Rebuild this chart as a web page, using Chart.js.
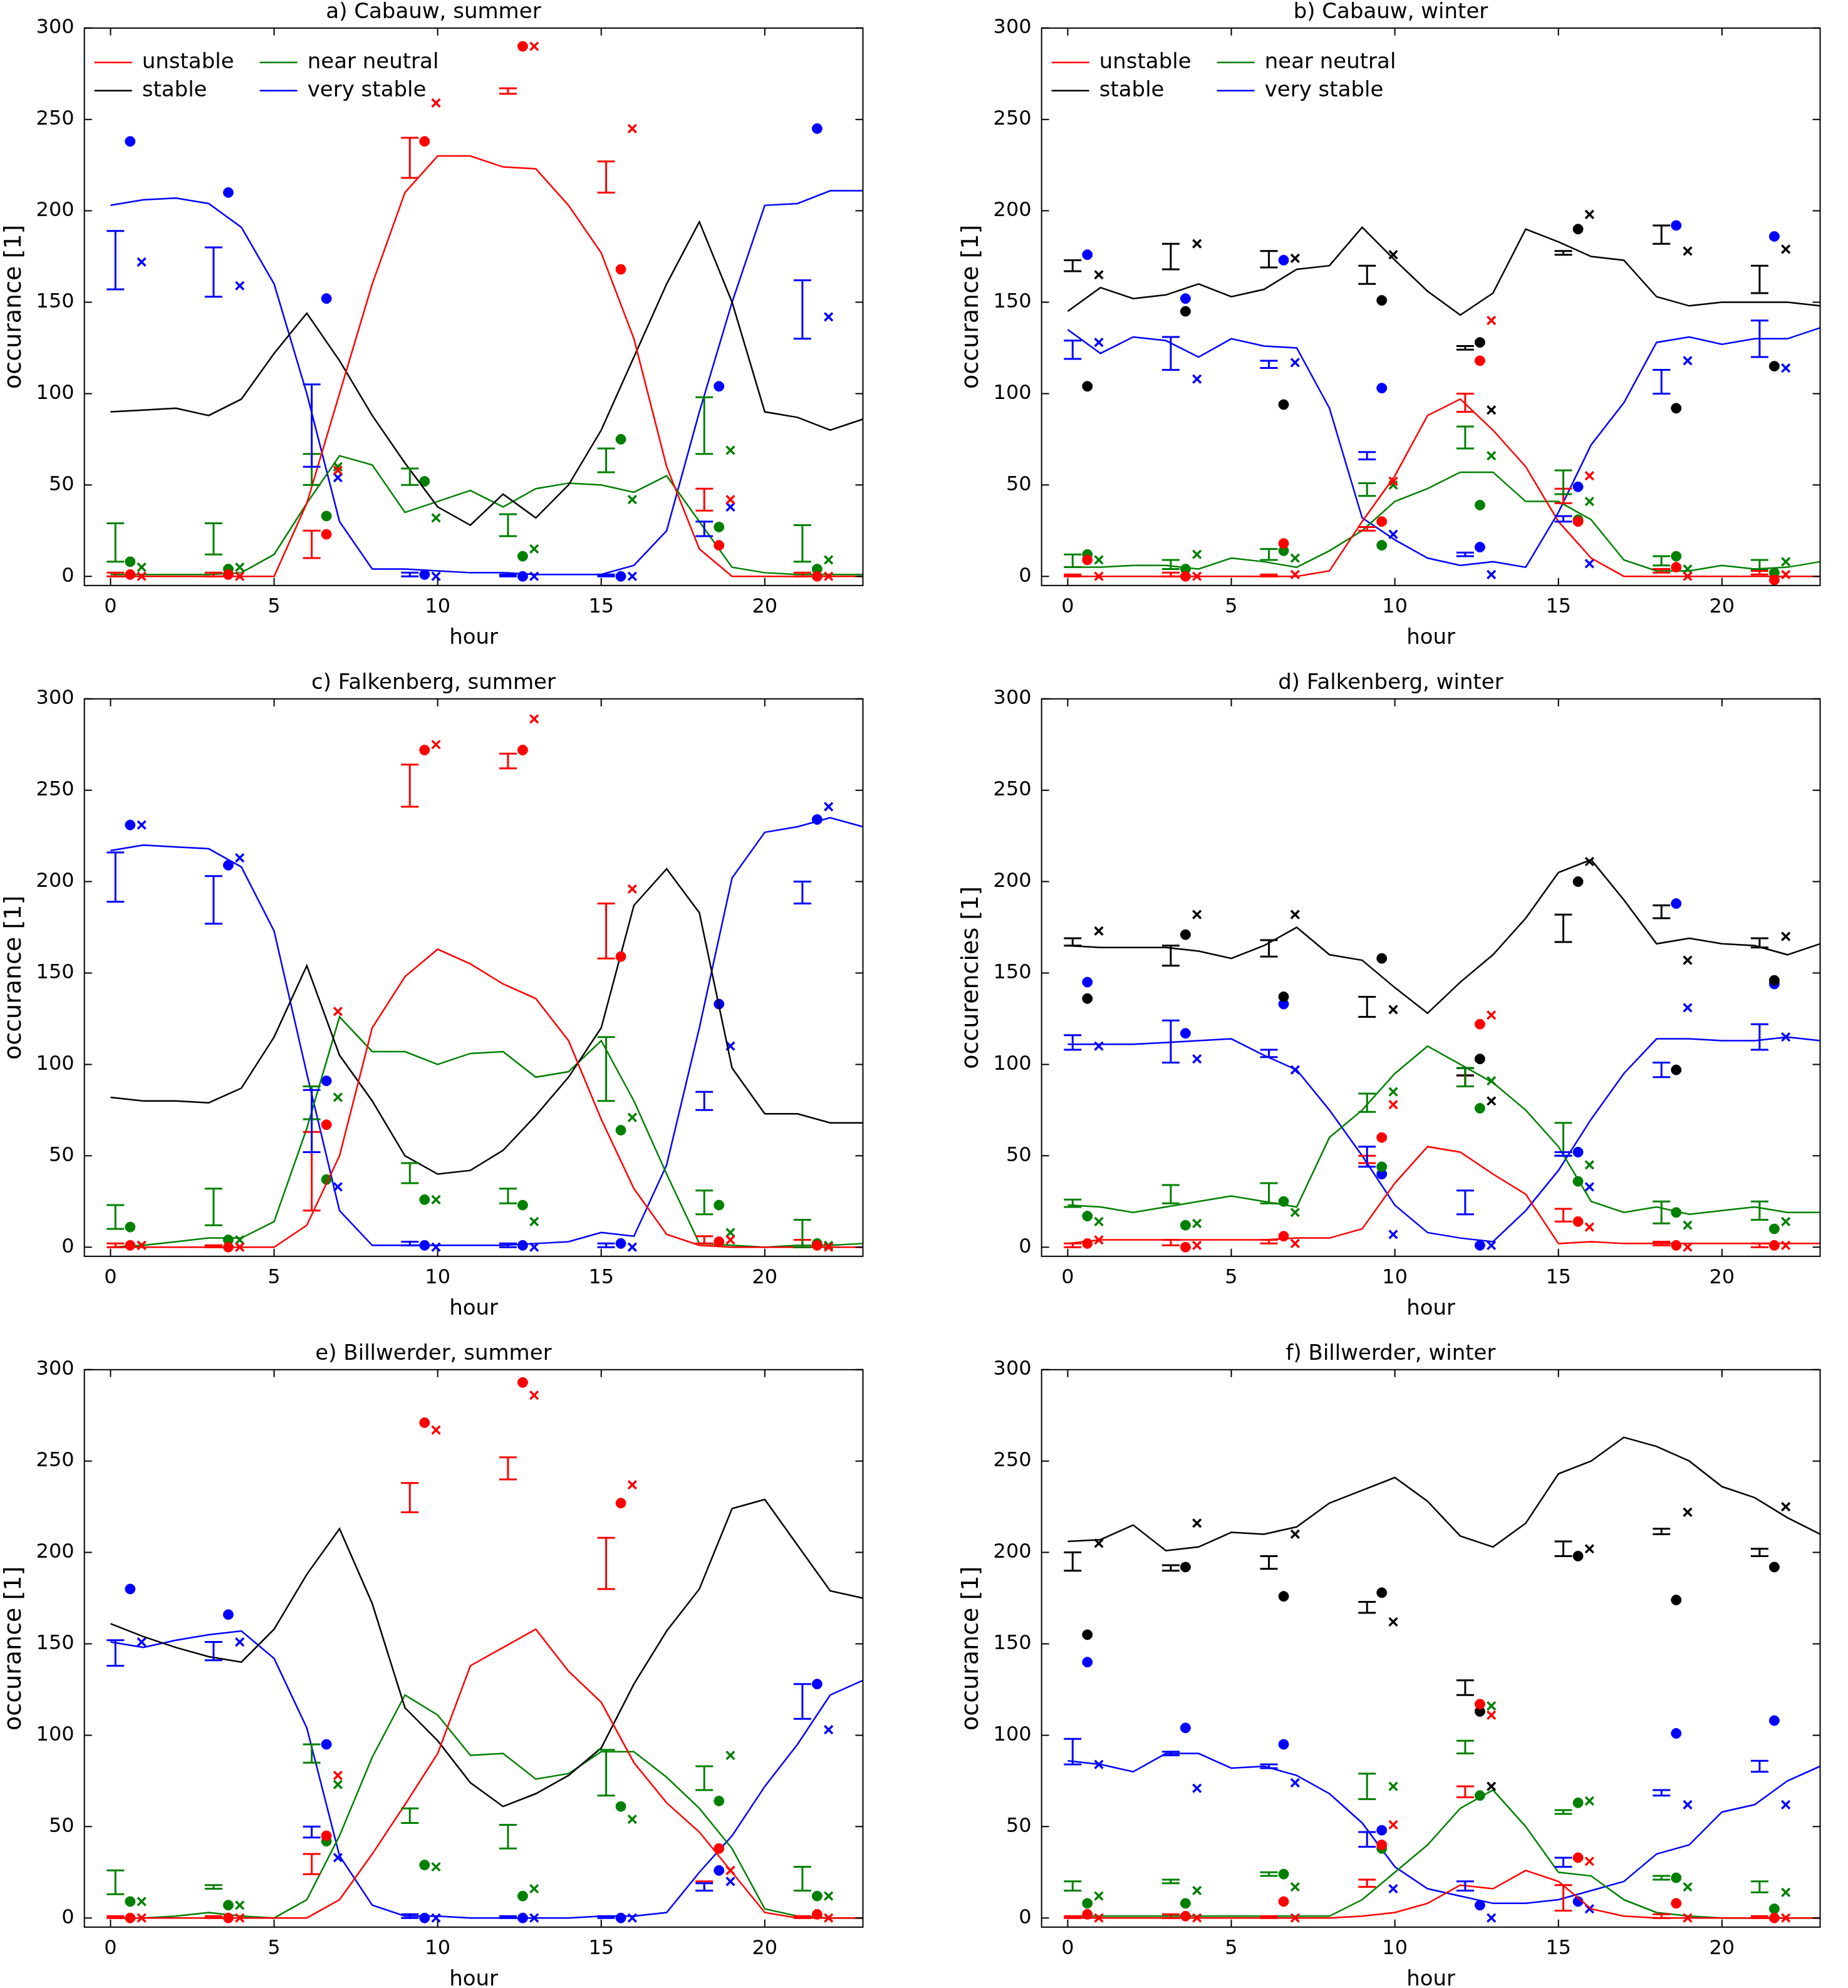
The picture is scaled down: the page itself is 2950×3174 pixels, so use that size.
<!DOCTYPE html>
<html>
<head>
<meta charset="utf-8">
<script src="https://cdn.jsdelivr.net/npm/chart.js@4.4.0/dist/chart.umd.min.js"></script>
<style>
  body { margin: 0; background: #fff; }
  .panel { position: absolute; width: 1390px; height: 1040px; }
</style>
</head>
<body>
<div class="panel" style="left:0px;top:0px"><canvas id="ca"></canvas></div>
<div class="panel" style="left:1528px;top:0px"><canvas id="cb"></canvas></div>
<div class="panel" style="left:0px;top:1071px"><canvas id="cc"></canvas></div>
<div class="panel" style="left:1528px;top:1071px"><canvas id="cd"></canvas></div>
<div class="panel" style="left:0px;top:2142px"><canvas id="ce"></canvas></div>
<div class="panel" style="left:1528px;top:2142px"><canvas id="cf"></canvas></div>
<script>
// shared x positions
const hours = [0,1,2,3,4,5,6,7,8,9,10,11,12,13,14,15,16,17,18,19,20,21,22,23];
const barHours = [0.15, 3.15, 6.15, 9.15, 12.15, 15.15, 18.15, 21.15];
const dotHours = [0.6, 3.6, 6.6, 9.6, 12.6, 15.6, 18.6, 21.6];
const crossHours = [0.95, 3.95, 6.95, 9.95, 12.95, 15.95, 18.95, 21.95];
const yTicks = [0, 50, 100, 150, 200, 250, 300];
const xTicks = [0, 5, 10, 15, 20];
const classes = ['unstable', 'stable', 'near neutral', 'very stable'];
const colors = ['#ff0000', '#000000', '#008000', '#0000ff'];

// a) Cabauw, summer
const aLines = [
  [0,0,0,0,0,0,40,100,160,210,230,230,224,223,203,177,130,60,15,0,0,0,0,0],
  [90,91,92,88,97,122,144,118,88,62,38,28,45,32,50,80,120,160,194,150,90,87,80,86],
  [1,1,1,1,2,12,40,66,61,35,41,47,38,48,51,50,46,55,30,5,2,1,1,1],
  [203,206,207,204,191,160,100,30,4,4,3,2,2,1,1,1,6,25,90,150,203,204,211,211]
];
const aBarLo = [[0,0,10,218,264,210,36,0], null, [8,12,50,50,22,57,67,8], [157,153,60,0,0,0,22,130]];
const aBarHi = [[2,2,25,240,267,227,48,2], null, [29,29,67,59,34,70,98,28], [189,180,105,2,1,1,30,162]];
const aDots = [[1,1,23,238,290,168,17,0], null, [8,4,33,52,11,75,27,4], [238,210,152,1,0,0,104,245]];
const aCross = [[0,0,58,259,290,245,42,0], null, [5,5,60,32,15,42,69,9], [172,159,54,0,0,0,38,142]];

// b) Cabauw, winter
const bLines = [
  [0,0,0,0,0,0,0,0,3,30,55,88,97,80,60,30,10,0,0,0,0,0,0,0],
  [145,158,152,154,160,153,157,168,170,191,173,156,143,155,190,183,175,173,153,148,150,150,150,148],
  [5,5,6,6,4,10,8,5,14,25,41,48,57,57,41,41,31,9,3,3,6,4,5,8],
  [135,122,131,129,120,130,126,125,92,32,20,10,6,8,5,35,72,95,128,131,127,130,130,136]
];
const bBarLo = [[0,0,0,25,90,40,2,1], [167,168,169,160,124,176,182,155], [5,4,9,44,70,45,6,4], [119,113,114,64,11,30,100,120]];
const bBarHi = [[1,2,1,27,100,48,4,3], [173,182,178,170,126,178,192,170], [12,9,15,51,82,58,11,9], [129,131,118,68,13,33,113,140]];
const bDots = [[9,0,18,30,118,30,5,-2], [104,145,94,151,128,190,92,115], [12,4,14,17,39,31,11,2], [176,152,173,103,16,49,192,186]];
const bCross = [[0,0,1,52,140,55,0,1], [165,182,174,176,91,198,178,179], [9,12,10,50,66,41,4,8], [128,108,117,23,1,7,118,114]];

// c) Falkenberg, summer
const cLines = [
  [0,0,0,0,0,0,12,50,120,148,163,155,144,136,113,70,32,7,1,0,0,0,0,0],
  [82,80,80,79,87,115,154,105,80,50,40,42,53,72,93,120,187,207,183,98,73,73,68,68],
  [0,1,3,5,5,14,65,126,107,107,100,106,107,93,96,113,80,40,2,1,0,1,1,2],
  [217,220,219,218,208,173,95,20,1,1,1,1,1,2,3,8,6,45,120,202,227,230,235,230]
];
const cBarLo = [[0,0,20,241,262,158,2,0], null, [10,12,70,35,24,80,18,0], [189,177,52,1,0,0,75,188]];
const cBarHi = [[2,1,63,264,270,188,6,4], null, [23,32,88,46,32,115,31,15], [216,203,86,3,2,2,85,200]];
const cDots = [[1,0,67,272,272,159,3,1], null, [11,4,37,26,23,64,23,2], [231,209,91,1,1,2,133,234]];
const cCross = [[1,0,129,275,289,196,4,0], null, [1,4,82,26,14,71,8,1], [231,213,33,0,0,0,110,241]];

// d) Falkenberg, winter
const dLines = [
  [2,4,4,4,4,4,4,5,5,10,35,55,52,40,29,2,3,2,2,2,2,2,2,2],
  [165,164,164,164,162,158,165,175,160,157,142,128,145,160,180,205,212,190,166,169,166,165,160,166],
  [23,22,19,22,25,28,25,22,60,75,95,110,100,90,75,55,25,19,22,18,20,22,19,19],
  [111,111,111,112,113,114,105,97,75,50,23,8,5,3,20,42,70,95,114,114,113,113,115,113]
];
const dBarLo = [[0,1,2,46,88,14,1,0], [165,154,159,126,94,167,180,164], [22,24,24,74,88,50,13,15], [108,101,104,44,18,50,93,108]];
const dBarHi = [[2,4,4,50,94,21,3,2], [169,165,168,137,98,182,187,169], [26,34,35,84,98,68,25,25], [116,124,108,55,31,52,101,122]];
const dDots = [[2,0,6,60,122,14,1,1], [136,171,137,158,103,200,97,146], [17,12,25,44,76,36,19,10], [145,117,133,40,1,52,188,144]];
const dCross = [[4,1,2,78,127,11,0,1], [173,182,182,130,80,211,157,170], [14,13,19,85,91,45,12,14], [110,103,97,7,1,33,131,115]];

// e) Billwerder, summer
const eLines = [
  [0,0,0,0,0,0,0,10,35,62,90,138,148,158,135,118,85,63,47,25,3,0,0,0],
  [161,154,148,143,140,158,188,213,172,115,97,74,61,68,78,93,128,157,180,224,229,204,179,175],
  [0,0,1,3,1,0,10,45,88,122,111,89,90,76,79,91,91,77,60,38,5,1,0,0],
  [151,148,152,155,157,142,104,34,7,1,1,0,0,0,0,1,1,3,25,45,72,95,122,130]
];
const eBarLo = [[0,0,24,222,240,180,15,0], null, [13,16,85,52,38,67,70,15], [138,141,44,0,0,0,15,109]];
const eBarHi = [[1,1,35,238,252,208,20,1], null, [26,18,95,60,51,92,83,28], [152,151,50,2,1,1,19,128]];
const eDots = [[0,0,45,271,293,227,38,2], null, [9,7,42,29,12,61,64,12], [180,166,95,0,0,0,26,128]];
const eCross = [[0,0,78,267,286,237,26,0], null, [9,7,73,28,16,54,89,12], [151,151,33,0,0,0,20,103]];

// f) Billwerder, winter
const fLines = [
  [0,0,0,0,0,0,0,0,0,1,3,8,18,16,26,20,5,1,0,0,0,0,0,0],
  [206,207,215,201,203,211,210,214,227,234,241,228,209,203,216,243,250,263,258,250,236,230,219,210],
  [1,1,1,1,1,1,1,1,1,10,25,40,60,70,50,25,23,10,3,1,0,0,0,0],
  [86,84,80,90,90,82,83,78,68,52,28,16,12,8,8,10,15,20,35,40,58,62,75,83]
];
const fBarLo = [[0,0,0,17,66,4,0,0], [190,190,191,167,122,198,210,198], [15,19,23,65,90,57,21,14], [84,89,82,39,15,28,67,80]];
const fBarHi = [[1,2,1,21,72,18,2,1], [200,193,198,173,130,206,213,202], [20,21,25,79,97,59,23,20], [98,91,84,47,20,33,70,86]];
const fDots = [[2,1,9,40,117,33,8,0], [155,192,176,178,113,198,174,192], [8,8,24,38,67,63,22,5], [140,104,95,48,7,9,101,108]];
const fCross = [[0,0,0,51,111,31,0,0], [205,216,210,162,72,202,222,225], [12,15,17,72,116,64,17,14], [84,71,74,16,0,5,62,62]];

const panels = [
  {id:'ca', title:'a) Cabauw, summer', ylab:'occurance [1]', lines:aLines, lo:aBarLo, hi:aBarHi, dots:aDots, cross:aCross, legend:true},
  {id:'cb', title:'b) Cabauw, winter', ylab:'occurance [1]', lines:bLines, lo:bBarLo, hi:bBarHi, dots:bDots, cross:bCross, legend:true},
  {id:'cc', title:'c) Falkenberg, summer', ylab:'occurance [1]', lines:cLines, lo:cBarLo, hi:cBarHi, dots:cDots, cross:cCross},
  {id:'cd', title:'d) Falkenberg, winter', ylab:'occurencies [1]', lines:dLines, lo:dBarLo, hi:dBarHi, dots:dDots, cross:dCross},
  {id:'ce', title:'e) Billwerder, summer', ylab:'occurance [1]', lines:eLines, lo:eBarLo, hi:eBarHi, dots:eDots, cross:eCross},
  {id:'cf', title:'f) Billwerder, winter', ylab:'occurance [1]', lines:fLines, lo:fBarLo, hi:fBarHi, dots:fDots, cross:fCross}
];

const FONT = 'DejaVu Sans';

// error bars, frame, inward ticks and legend
function makeDecor(p) {
  return {
    id: 'decor',
    afterDatasetsDraw(chart) {
      const {ctx, chartArea: a, scales: {x, y}} = chart;
      ctx.save();
      ctx.lineWidth = 3;
      [0, 1, 2, 3].forEach(k => {
        const lo = p.lo[k], hi = p.hi[k];
        if (!lo) return;
        ctx.strokeStyle = colors[k];
        lo.forEach((v, i) => {
          const px = x.getPixelForValue(barHours[i]);
          const y1 = y.getPixelForValue(v), y2 = y.getPixelForValue(hi[i]);
          ctx.beginPath();
          ctx.moveTo(px, y1); ctx.lineTo(px, y2);
          ctx.moveTo(px - 14, y1); ctx.lineTo(px + 14, y1);
          ctx.moveTo(px - 14, y2); ctx.lineTo(px + 14, y2);
          ctx.stroke();
        });
      });
      ctx.strokeStyle = '#000';
      ctx.lineWidth = 2;
      ctx.strokeRect(a.left, a.top, a.width, a.height);
      ctx.beginPath();
      xTicks.forEach(v => {
        const px = x.getPixelForValue(v);
        ctx.moveTo(px, a.bottom); ctx.lineTo(px, a.bottom - 12);
        ctx.moveTo(px, a.top); ctx.lineTo(px, a.top + 12);
      });
      yTicks.forEach(v => {
        const py = y.getPixelForValue(v);
        ctx.moveTo(a.left, py); ctx.lineTo(a.left + 12, py);
        ctx.moveTo(a.right, py); ctx.lineTo(a.right - 12, py);
      });
      ctx.stroke();
      if (p.legend) {
        ctx.font = '34px ' + FONT;
        ctx.textBaseline = 'middle';
        const cols = [a.left + 16, a.left + 280];
        const order = [[0, 0, 0], [2, 1, 0], [1, 0, 1], [3, 1, 1]];
        order.forEach(([k, c, r]) => {
          const lx = cols[c], ly = a.top + 55 + r * 45;
          ctx.strokeStyle = colors[k];
          ctx.lineWidth = 2.5;
          ctx.beginPath(); ctx.moveTo(lx, ly); ctx.lineTo(lx + 60, ly); ctx.stroke();
          ctx.fillStyle = '#000';
          ctx.fillText(classes[k], lx + 76, ly);
        });
      }
      ctx.restore();
    }
  };
}

panels.forEach(p => {
  const datasets = [];
  [0, 1, 2, 3].forEach(k => {
    datasets.push({
      type: 'line', label: classes[k],
      data: hours.map((h, i) => ({x: h, y: p.lines[k][i]})),
      borderColor: colors[k], borderWidth: 2.5, pointRadius: 0, tension: 0
    });
    if (p.dots[k]) datasets.push({
      type: 'scatter', label: classes[k] + ' dots',
      data: dotHours.map((h, i) => ({x: h, y: p.dots[k][i]})),
      pointStyle: 'circle', pointRadius: 8, backgroundColor: colors[k], borderColor: colors[k]
    });
    if (p.cross[k]) datasets.push({
      type: 'scatter', label: classes[k] + ' crosses',
      data: crossHours.map((h, i) => ({x: h, y: p.cross[k][i]})),
      pointStyle: 'crossRot', pointRadius: 9, borderWidth: 3.5, borderColor: colors[k]
    });
  });
  new Chart(document.getElementById(p.id), {
    type: 'line',
    data: {datasets},
    options: {
      responsive: true, maintainAspectRatio: false, animation: false, devicePixelRatio: 1,
      layout: {padding: {left: 0, right: 6, top: 0, bottom: 0}},
      plugins: {
        legend: {display: false}, tooltip: {enabled: false},
        title: {display: true, text: p.title, color: '#000', font: {family: FONT, size: 34, weight: 'normal'}, padding: {top: 0, bottom: 4}}
      },
      scales: {
        x: {
          type: 'linear', min: -0.8, max: 23,
          afterBuildTicks: s => { s.ticks = xTicks.map(v => ({value: v})); },
          grid: {display: false}, border: {display: false},
          ticks: {color: '#000', font: {family: FONT, size: 32}, padding: 8},
          title: {display: true, text: 'hour', color: '#000', font: {family: FONT, size: 34}, padding: {top: 2, bottom: 0}}
        },
        y: {
          min: -5, max: 300,
          afterBuildTicks: s => { s.ticks = yTicks.map(v => ({value: v})); },
          grid: {display: false}, border: {display: false},
          ticks: {color: '#000', font: {family: FONT, size: 32}, padding: 8},
          title: {display: true, text: p.ylab, color: '#000', font: {family: FONT, size: 38}, padding: {top: 0, bottom: 4}}
        }
      }
    },
    plugins: [makeDecor(p)]
  });
});
</script>
</body>
</html>
